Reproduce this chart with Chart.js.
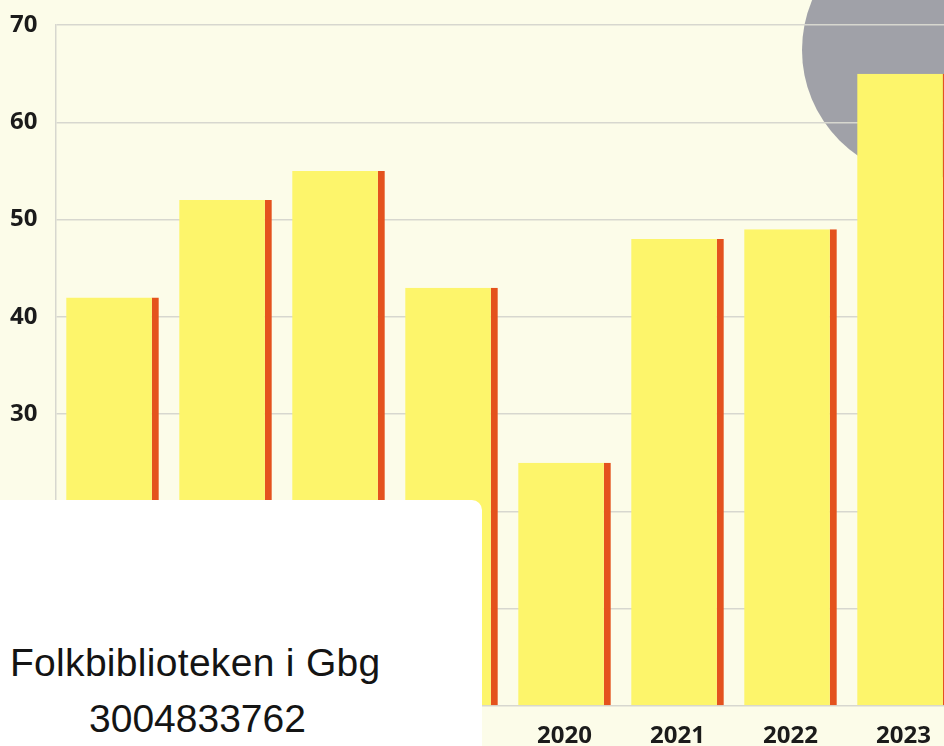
<!DOCTYPE html>
<html lang="sv">
<head>
<meta charset="utf-8">
<title>Staplar 2016-2023</title>
<script src="https://cdn.jsdelivr.net/npm/chart.js@4.4.1/dist/chart.umd.min.js"></script>
<style>
    html, body {
        margin: 0;
        padding: 0;
        overflow: hidden;
        background: #fcfce9;
    }
    #wrap {
        position: relative;
        width: 944px;
        height: 746px;
        overflow: hidden;
    }
    #chart {
        position: absolute;
        left: 0;
        top: 0;
    }
    .sticker {
        position: absolute;
        left: 0;
        top: 500px;
        width: 482px;
        height: 246px;
        background: #ffffff;
        border-top-right-radius: 10px;
        font-family: "Liberation Sans", Arial, sans-serif;
        color: #141414;
    }
    .sticker div {
        position: absolute;
        font-size: 39px;
        line-height: 39px;
        white-space: nowrap;
    }
</style>
</head>
<body>
<div id="wrap">
    <canvas id="chart" width="962" height="746"></canvas>
    <div class="sticker">
        <div style="left: 10px; top: 143px; letter-spacing: 0.3px;">Folkbiblioteken i Gbg</div>
        <div style="left: 89px; top: 199px;">3004833762</div>
    </div>
</div>

<script>
// Values
const years = ['2016', '2017', '2018', '2019', '2020', '2021', '2022', '2023'];
const values = [42, 52, 55, 43, 25, 48, 49, 65];
const yTicks = [0, 10, 20, 30, 40, 50, 60, 70];

const YELLOW = '#fdf56b';
const RED = '#e4521d';
const GRID = '#d7d7cf';
const INK = '#1b1b1b';

// Grey disc behind the grid in the upper right corner
const discPlugin = {
    id: 'disc',
    beforeDraw(chart) {
        const area = chart.chartArea;
        const ctx = chart.ctx;
        ctx.save();
        ctx.fillStyle = '#a0a1a8';
        ctx.beginPath();
        ctx.arc(area.right - 30, area.top + 25, 128, 0, Math.PI * 2);
        ctx.fill();
        ctx.restore();
    }
};

const ctx = document.getElementById('chart').getContext('2d');
new Chart(ctx, {
    type: 'bar',
    data: {
        labels: years,
        datasets: [{
            data: values,
            backgroundColor: YELLOW,
            borderColor: RED,
            borderWidth: { top: 0, right: 7, bottom: 0, left: 0 },
            borderSkipped: false,
            barPercentage: 0.82,
            categoryPercentage: 1
        }]
    },
    options: {
        responsive: false,
        animation: false,
        devicePixelRatio: 1,
        layout: {
            padding: { left: 10, top: 25, right: 2, bottom: 0 }
        },
        plugins: {
            legend: { display: false },
            tooltip: { enabled: false }
        },
        scales: {
            x: {
                grid: { display: false },
                border: { display: false },
                ticks: {
                    color: INK,
                    padding: 8,
                    font: { family: 'Open Sans', size: 24, weight: 'bold' }
                },
                afterFit(scale) { scale.height = 40; }
            },
            y: {
                min: 0,
                max: yTicks[yTicks.length - 1],
                afterBuildTicks(scale) {
                    scale.ticks = yTicks.map(v => ({ value: v }));
                },
                grid: { color: GRID, lineWidth: 1.5, drawTicks: false },
                border: { display: true, color: GRID, width: 1.5 },
                ticks: {
                    color: INK,
                    padding: 0,
                    crossAlign: 'far',
                    font: { family: 'Open Sans', size: 24, weight: 'bold' }
                },
                afterFit(scale) { scale.width = 46; }
            }
        }
    },
    plugins: [discPlugin]
});
</script>
</body>
</html>
